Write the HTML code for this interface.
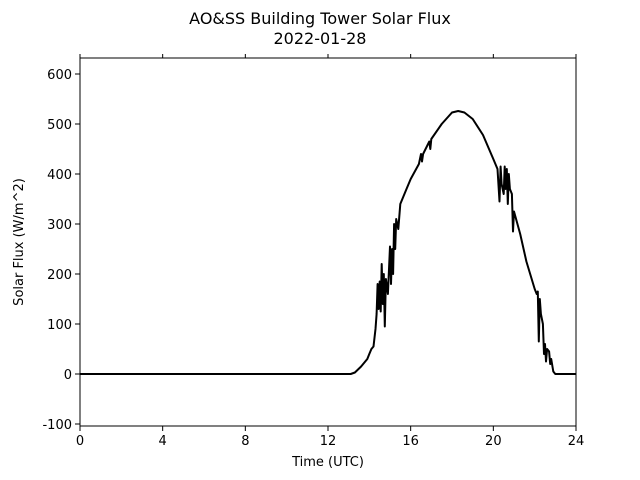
<!DOCTYPE html>
<html><head><meta charset="utf-8"><style>
body{margin:0;background:#fff;}
svg{display:block;font-family:"DejaVu Sans","Liberation Sans",sans-serif;}
</style></head><body>
<svg id="chart" width="640" height="480">
<text x="320" y="24" text-anchor="middle" font-size="16">AO&amp;SS Building Tower Solar Flux</text>
<text x="320" y="44" text-anchor="middle" font-size="16">2022-01-28</text>
<g id="axes"></g>
<path id="line" fill="none" stroke="#000" stroke-width="2" stroke-linejoin="round"></path>
<rect x="80" y="58" width="496" height="368" fill="none" stroke="#000" stroke-width="1"></rect>
<text x="328" y="466" text-anchor="middle" font-size="13">Time (UTC)</text>
<text transform="translate(23,242) rotate(-90)" text-anchor="middle" font-size="13">Solar Flux (W/m^2)</text>
</svg>
<script>
const hours=[0,13.1,13.3,13.6,13.9,14.0,14.1,14.2,14.3,14.35,14.4,14.45,14.5,14.55,14.6,14.65,14.7,14.75,14.8,14.9,15.0,15.05,15.1,15.15,15.2,15.25,15.3,15.4,15.5,15.8,16.0,16.4,16.5,16.55,16.6,16.9,16.95,17.0,17.5,18.0,18.3,18.6,19.0,19.5,20.0,20.2,20.3,20.35,20.4,20.5,20.55,20.6,20.65,20.7,20.75,20.8,20.9,20.95,21.0,21.3,21.6,22.0,22.1,22.15,22.2,22.25,22.3,22.4,22.45,22.5,22.55,22.6,22.7,22.75,22.8,22.9,23.0,24];
const flux=[0,0,3,15,30,40,50,55,90,120,180,130,185,125,220,140,200,95,190,160,255,180,250,200,300,250,310,290,340,370,390,420,440,425,440,465,450,470,500,523,526,523,510,478,430,410,345,415,380,360,415,370,410,340,400,370,360,285,325,280,225,170,160,165,65,150,120,100,40,60,25,50,45,20,30,5,0,0];
const xTicks=[0,4,8,12,16,20,24];
const yTicks=[-100,0,100,200,300,400,500,600];
const X0=80,X1=576,Y0=426,Y1=58,XMIN=0,XMAX=24,YMIN=-104,YMAX=632;
const xs=v=>X0+(v-XMIN)/(XMAX-XMIN)*(X1-X0);
const ys=v=>Y0-(v-YMIN)/(YMAX-YMIN)*(Y0-Y1);
const NS='http://www.w3.org/2000/svg';
const ax=document.getElementById('axes');
function mk(t,a){const e=document.createElementNS(NS,t);for(const k in a)e.setAttribute(k,a[k]);ax.appendChild(e);return e;}
xTicks.forEach(v=>{
 const l=mk('line',{x1:xs(v),x2:xs(v),y1:Y0,y2:Y0+5,stroke:'#000'});
 
 
 const l2=mk('line',{x1:xs(v),x2:xs(v),y1:Y1,y2:Y1-4,stroke:'#000'});
 
 
 const t=mk('text',{x:xs(v),y:Y0+19,'text-anchor':'middle','font-size':13});
 t.textContent=v;
 
 
});
yTicks.forEach(v=>{
 const l=mk('line',{x1:X0-5,x2:X0,y1:ys(v),y2:ys(v),stroke:'#000'});
 
 
 const t=mk('text',{x:X0-8,y:ys(v)+5,'text-anchor':'end','font-size':13});
 t.textContent=v;
 
 
});
document.getElementById('line').setAttribute('d',hours.map((h,i)=>(i?'L':'M')+xs(h).toFixed(1)+','+ys(flux[i]).toFixed(1)).join(''));
</script>
</body></html>
